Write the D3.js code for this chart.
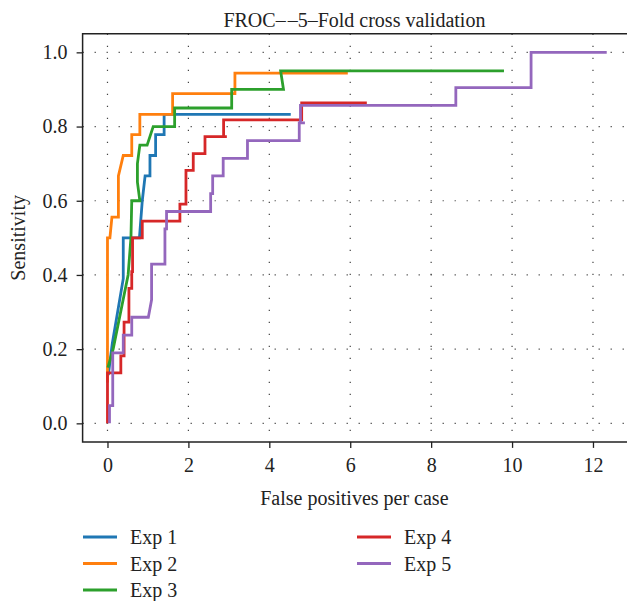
<!DOCTYPE html>
<html>
<head>
<meta charset="utf-8">
<script src="https://cdn.jsdelivr.net/npm/d3@7"></script>
<style>
  body { margin: 0; background: #fff; }
  text { font-family: "Liberation Serif", "DejaVu Serif", serif; fill: #222; }
</style>
</head>
<body>
<script>
// FROC points per experiment: [false positives per case, sensitivity]
const exp1 = [[0.02, 0.13], [0.12, 0.216], [0.39, 0.39], [0.39, 0.5], [0.79, 0.5], [0.86, 0.6],
  [0.93, 0.667], [1.05, 0.667], [1.05, 0.722], [1.19, 0.722], [1.19, 0.778], [1.4, 0.778],
  [1.4, 0.833], [4.53, 0.833]];
const exp2 = [[0.0, 0.11], [0.0, 0.5], [0.06, 0.5], [0.11, 0.556], [0.27, 0.556], [0.27, 0.667],
  [0.39, 0.722], [0.6, 0.722], [0.6, 0.778], [0.8, 0.778], [0.8, 0.833], [1.61, 0.833],
  [1.61, 0.889], [3.15, 0.889], [3.15, 0.944], [5.94, 0.944]];
const exp3 = [[0.01, 0.15], [0.14, 0.2], [0.51, 0.4], [0.58, 0.5], [0.6, 0.6], [0.8, 0.6],
  [0.74, 0.65], [0.74, 0.7], [0.8, 0.75], [0.98, 0.75], [1.13, 0.8], [1.66, 0.8], [1.66, 0.85],
  [3.07, 0.85], [3.07, 0.9], [4.35, 0.9], [4.28, 0.95], [9.8, 0.95]];
const exp4 = [[0.0, 0.0], [0.0, 0.136], [0.33, 0.136], [0.33, 0.182], [0.41, 0.182], [0.41, 0.273],
  [0.53, 0.273], [0.53, 0.364], [0.6, 0.364], [0.6, 0.409], [0.62, 0.409], [0.62, 0.5],
  [0.86, 0.5], [0.86, 0.545], [1.79, 0.545], [1.79, 0.591], [1.94, 0.591], [1.94, 0.682],
  [2.12, 0.682], [2.12, 0.727], [2.41, 0.727], [2.41, 0.773], [2.95, 0.773], [2.87, 0.773],
  [2.87, 0.818], [4.8, 0.818], [4.8, 0.864], [6.41, 0.864]];
const exp5 = [[0.05, 0.0], [0.05, 0.048], [0.13, 0.048], [0.13, 0.19], [0.39, 0.19], [0.39, 0.238],
  [0.6, 0.238], [0.6, 0.286], [1.01, 0.286], [1.09, 0.333], [1.09, 0.429], [1.42, 0.429],
  [1.42, 0.524], [1.46, 0.524], [1.46, 0.571], [2.55, 0.571], [2.55, 0.619], [2.6, 0.619],
  [2.6, 0.667], [2.86, 0.667], [2.86, 0.714], [3.46, 0.714], [3.46, 0.762], [4.74, 0.762],
  [4.74, 0.81], [4.88, 0.81], [4.77, 0.81], [4.77, 0.857], [8.61, 0.857], [8.61, 0.905],
  [10.47, 0.905], [10.47, 1.0], [12.34, 1.0]];

const seriesNames = ["Exp 1", "Exp 2", "Exp 3", "Exp 4", "Exp 5"];
const seriesData = [exp1, exp2, exp3, exp4, exp5];
const seriesColors = ["#1f77b4", "#ff7f0e", "#2ca02c", "#d62728", "#9467bd"];
const xTicks = [0, 2, 4, 6, 8, 10, 12];
const yTicks = [0.0, 0.2, 0.4, 0.6, 0.8, 1.0];

const width = 627, height = 601;
const plotLeft = 82.6, plotRight = 630.2, plotTop = 33.8, plotBottom = 441.9;
const fontSize = "20px";

const svg = d3.select("body").append("svg")
  .attr("width", width)
  .attr("height", height);

const x = d3.scaleLinear().domain([-0.615, 12.92]).range([plotLeft, plotRight]);
const y = d3.scaleLinear().domain([-0.05, 1.05]).range([plotBottom, plotTop]);

// dotted grid
const grid = svg.append("g")
  .attr("stroke", "#444")
  .attr("stroke-width", 1.2)
  .attr("stroke-dasharray", "1.2,10.8");
grid.selectAll(".gx").data(xTicks).enter().append("line")
  .attr("x1", d => x(d)).attr("x2", d => x(d))
  .attr("y1", plotTop).attr("y2", plotBottom);
grid.selectAll(".gy").data(yTicks).enter().append("line")
  .attr("x1", plotLeft).attr("x2", plotRight)
  .attr("y1", d => y(d)).attr("y2", d => y(d));

// clip for the curves
svg.append("clipPath").attr("id", "plot")
  .append("rect")
  .attr("x", plotLeft).attr("y", plotTop)
  .attr("width", plotRight - plotLeft).attr("height", plotBottom - plotTop);

const line = d3.line().x(d => x(d[0])).y(d => y(d[1]));

svg.append("g").attr("clip-path", "url(#plot)")
  .selectAll("path")
  .data(seriesData)
  .enter()
  .append("path")
  .attr("d", line)
  .attr("fill", "none")
  .attr("stroke", (d, i) => seriesColors[i])
  .attr("stroke-width", 2.8)
  .attr("stroke-linejoin", "miter");

// axes
const xAxis = svg.append("g")
  .attr("transform", `translate(0,${plotBottom})`)
  .call(d3.axisBottom(x).tickValues(xTicks).tickSize(6).tickSizeOuter(0).tickPadding(10));
const yAxis = svg.append("g")
  .attr("transform", `translate(${plotLeft},0)`)
  .call(d3.axisLeft(y).tickValues(yTicks).tickSize(6).tickSizeOuter(0).tickPadding(9)
    .tickFormat(d3.format(".1f")));

[xAxis, yAxis].forEach(g => {
  g.select(".domain").remove();
  g.selectAll(".tick line").attr("stroke", "#222").attr("stroke-width", 1.3);
  g.selectAll(".tick text").style("font-size", fontSize)
    .style("font-family", "'Liberation Serif', serif").attr("fill", "#222");
});

// spines
svg.append("path")
  .attr("d", `M${plotRight},${plotTop}H${plotLeft}V${plotBottom}H${plotRight}`)
  .attr("fill", "none")
  .attr("stroke", "#222")
  .attr("stroke-width", 1.5);

// title and labels
const title = svg.append("text")
  .attr("x", (plotLeft + plotRight) / 2 - 2).attr("y", 27)
  .attr("text-anchor", "middle")
  .style("font-size", fontSize);
title.append("tspan").text("FROC\u2013");
title.append("tspan").attr("dx", 2).text("\u20135\u2013Fold cross validation");

svg.append("text")
  .attr("x", (plotLeft + plotRight) / 2 - 2).attr("y", 505)
  .attr("text-anchor", "middle")
  .style("font-size", fontSize)
  .text("False positives per case");

svg.append("text")
  .attr("transform", `translate(25,${(plotTop + plotBottom) / 2}) rotate(-90)`)
  .attr("text-anchor", "middle")
  .style("font-size", fontSize)
  .text("Sensitivity");

// legend, two columns
const legendCols = [83, 357];
const legendRows = [537, 563.5, 590];
const legend = svg.append("g");
seriesNames.forEach((name, i) => {
  const col = i < 3 ? 0 : 1;
  const row = i < 3 ? i : i - 3;
  const lx = legendCols[col], ly = legendRows[row];
  legend.append("line")
    .attr("x1", lx).attr("x2", lx + 34)
    .attr("y1", ly).attr("y2", ly)
    .attr("stroke", seriesColors[i])
    .attr("stroke-width", 2.8);
  legend.append("text")
    .attr("x", lx + 47).attr("y", ly + 7)
    .style("font-size", fontSize)
    .text(name);
});
</script>
</body>
</html>
